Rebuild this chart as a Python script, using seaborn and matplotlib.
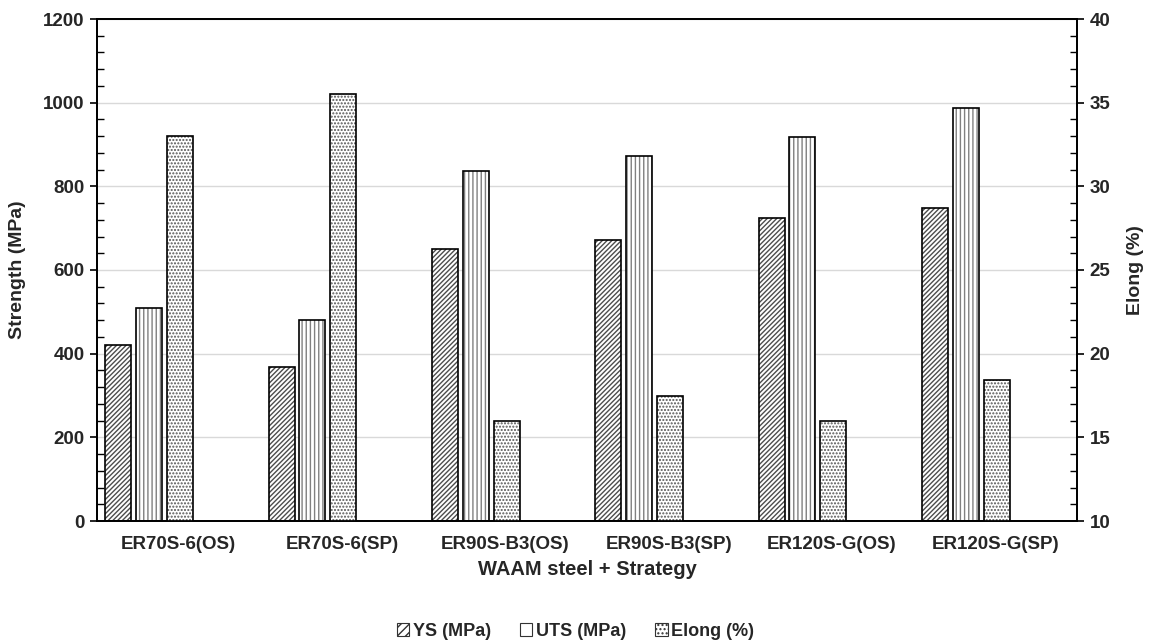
import numpy as np
import matplotlib
matplotlib.use("Agg")
import matplotlib.pyplot as plt
from matplotlib.patches import Patch
from matplotlib.ticker import MultipleLocator
import seaborn as sns

# --- data ---
categories = ["ER70S-6(OS)", "ER70S-6(SP)", "ER90S-B3(OS)",
              "ER90S-B3(SP)", "ER120S-G(OS)", "ER120S-G(SP)"]
ys_mpa = [420, 368, 650, 672, 724, 748]
uts_mpa = [510, 480, 837, 873, 917, 988]
elong_pct = [33.0, 35.5, 16.0, 17.5, 16.0, 18.4]
series_labels = ["YS (MPa)", "UTS (MPa)", "Elong (%)"]

sns.set_theme(style="white")
plt.rcParams["font.family"] = ["Liberation Sans", "DejaVu Sans"]
plt.rcParams["font.weight"] = "bold"
plt.rcParams["hatch.linewidth"] = 1.0

fig = plt.figure(figsize=(11.51, 6.42), dpi=100)
ax = fig.add_axes([97 / 1151, 1 - 521 / 642, 980 / 1151, 502 / 642])
ax2 = ax.twinx()

idx = np.arange(len(categories))
w = 0.158
offs = [0.131, 0.318, 0.508]
hatches = ["///////", "||||", "....."]
hatch_cols = ["#4d4d4d", "#808080", "#555555"]


def hatched_bar(a, x, h, hatch, hcol):
    # hatch layer (hatch follows edgecolor), then black outline on top
    a.bar(x, h, width=w, color="white", edgecolor=hcol, hatch=hatch, linewidth=0, zorder=2)
    a.bar(x, h, width=w, fill=False, edgecolor="black", linewidth=1.2, zorder=3)


hatched_bar(ax, idx + offs[0], ys_mpa, hatches[0], hatch_cols[0])
hatched_bar(ax, idx + offs[1], uts_mpa, hatches[1], hatch_cols[1])
hatched_bar(ax2, idx + offs[2], elong_pct, hatches[2], hatch_cols[2])

# --- axes ---
ax.set_xlim(0, len(categories))
ax.set_ylim(0, 1200)
ax2.set_ylim(10, 40)
ax.set_xticks(idx + 0.5)
ax.set_xticklabels(categories, fontsize=13.5, fontweight="bold")
ax.tick_params(axis="x", length=0, pad=11)

ax.yaxis.set_major_locator(MultipleLocator(200))
ax.yaxis.set_minor_locator(MultipleLocator(40))
ax2.yaxis.set_major_locator(MultipleLocator(5))
ax2.yaxis.set_minor_locator(MultipleLocator(1))
for a, side in [(ax, "left"), (ax2, "right")]:
    a.tick_params(axis="y", which="major", direction="out", length=5, width=1.2,
                  color="black", labelsize=13.5, pad=4)
    a.tick_params(axis="y", which="minor", direction="in", length=5, width=1.0,
                  color="black", left=(side == "left"), right=(side == "right"))
    for lab in a.get_yticklabels():
        lab.set_fontweight("bold")

ax.grid(axis="y", which="major", color="#d9d9d9", linewidth=1.0, zorder=0)
ax.set_axisbelow(True)
for a in (ax, ax2):
    for sp in a.spines.values():
        sp.set_color("black")
        sp.set_linewidth(1.3)

ax.set_ylabel("Strength (MPa)", fontsize=14, fontweight="bold", labelpad=12)
ax2.set_ylabel("Elong (%)", fontsize=14, fontweight="bold", labelpad=12)
ax.set_xlabel("WAAM steel + Strategy", fontsize=14.5, fontweight="bold", labelpad=5)

handles = [Patch(facecolor="white", edgecolor="#333333", hatch=h, linewidth=0.8)
           for h in ["////", "", "...."]]
fig.legend(handles, series_labels, loc="center", bbox_to_anchor=(0.5, 1 - 631 / 642),
           ncol=3, frameon=False, handlelength=0.7, handleheight=0.7,
           handletextpad=0.2, columnspacing=1.6,
           prop={"weight": "bold", "size": 13})

fig.savefig("out.png", dpi=100)
